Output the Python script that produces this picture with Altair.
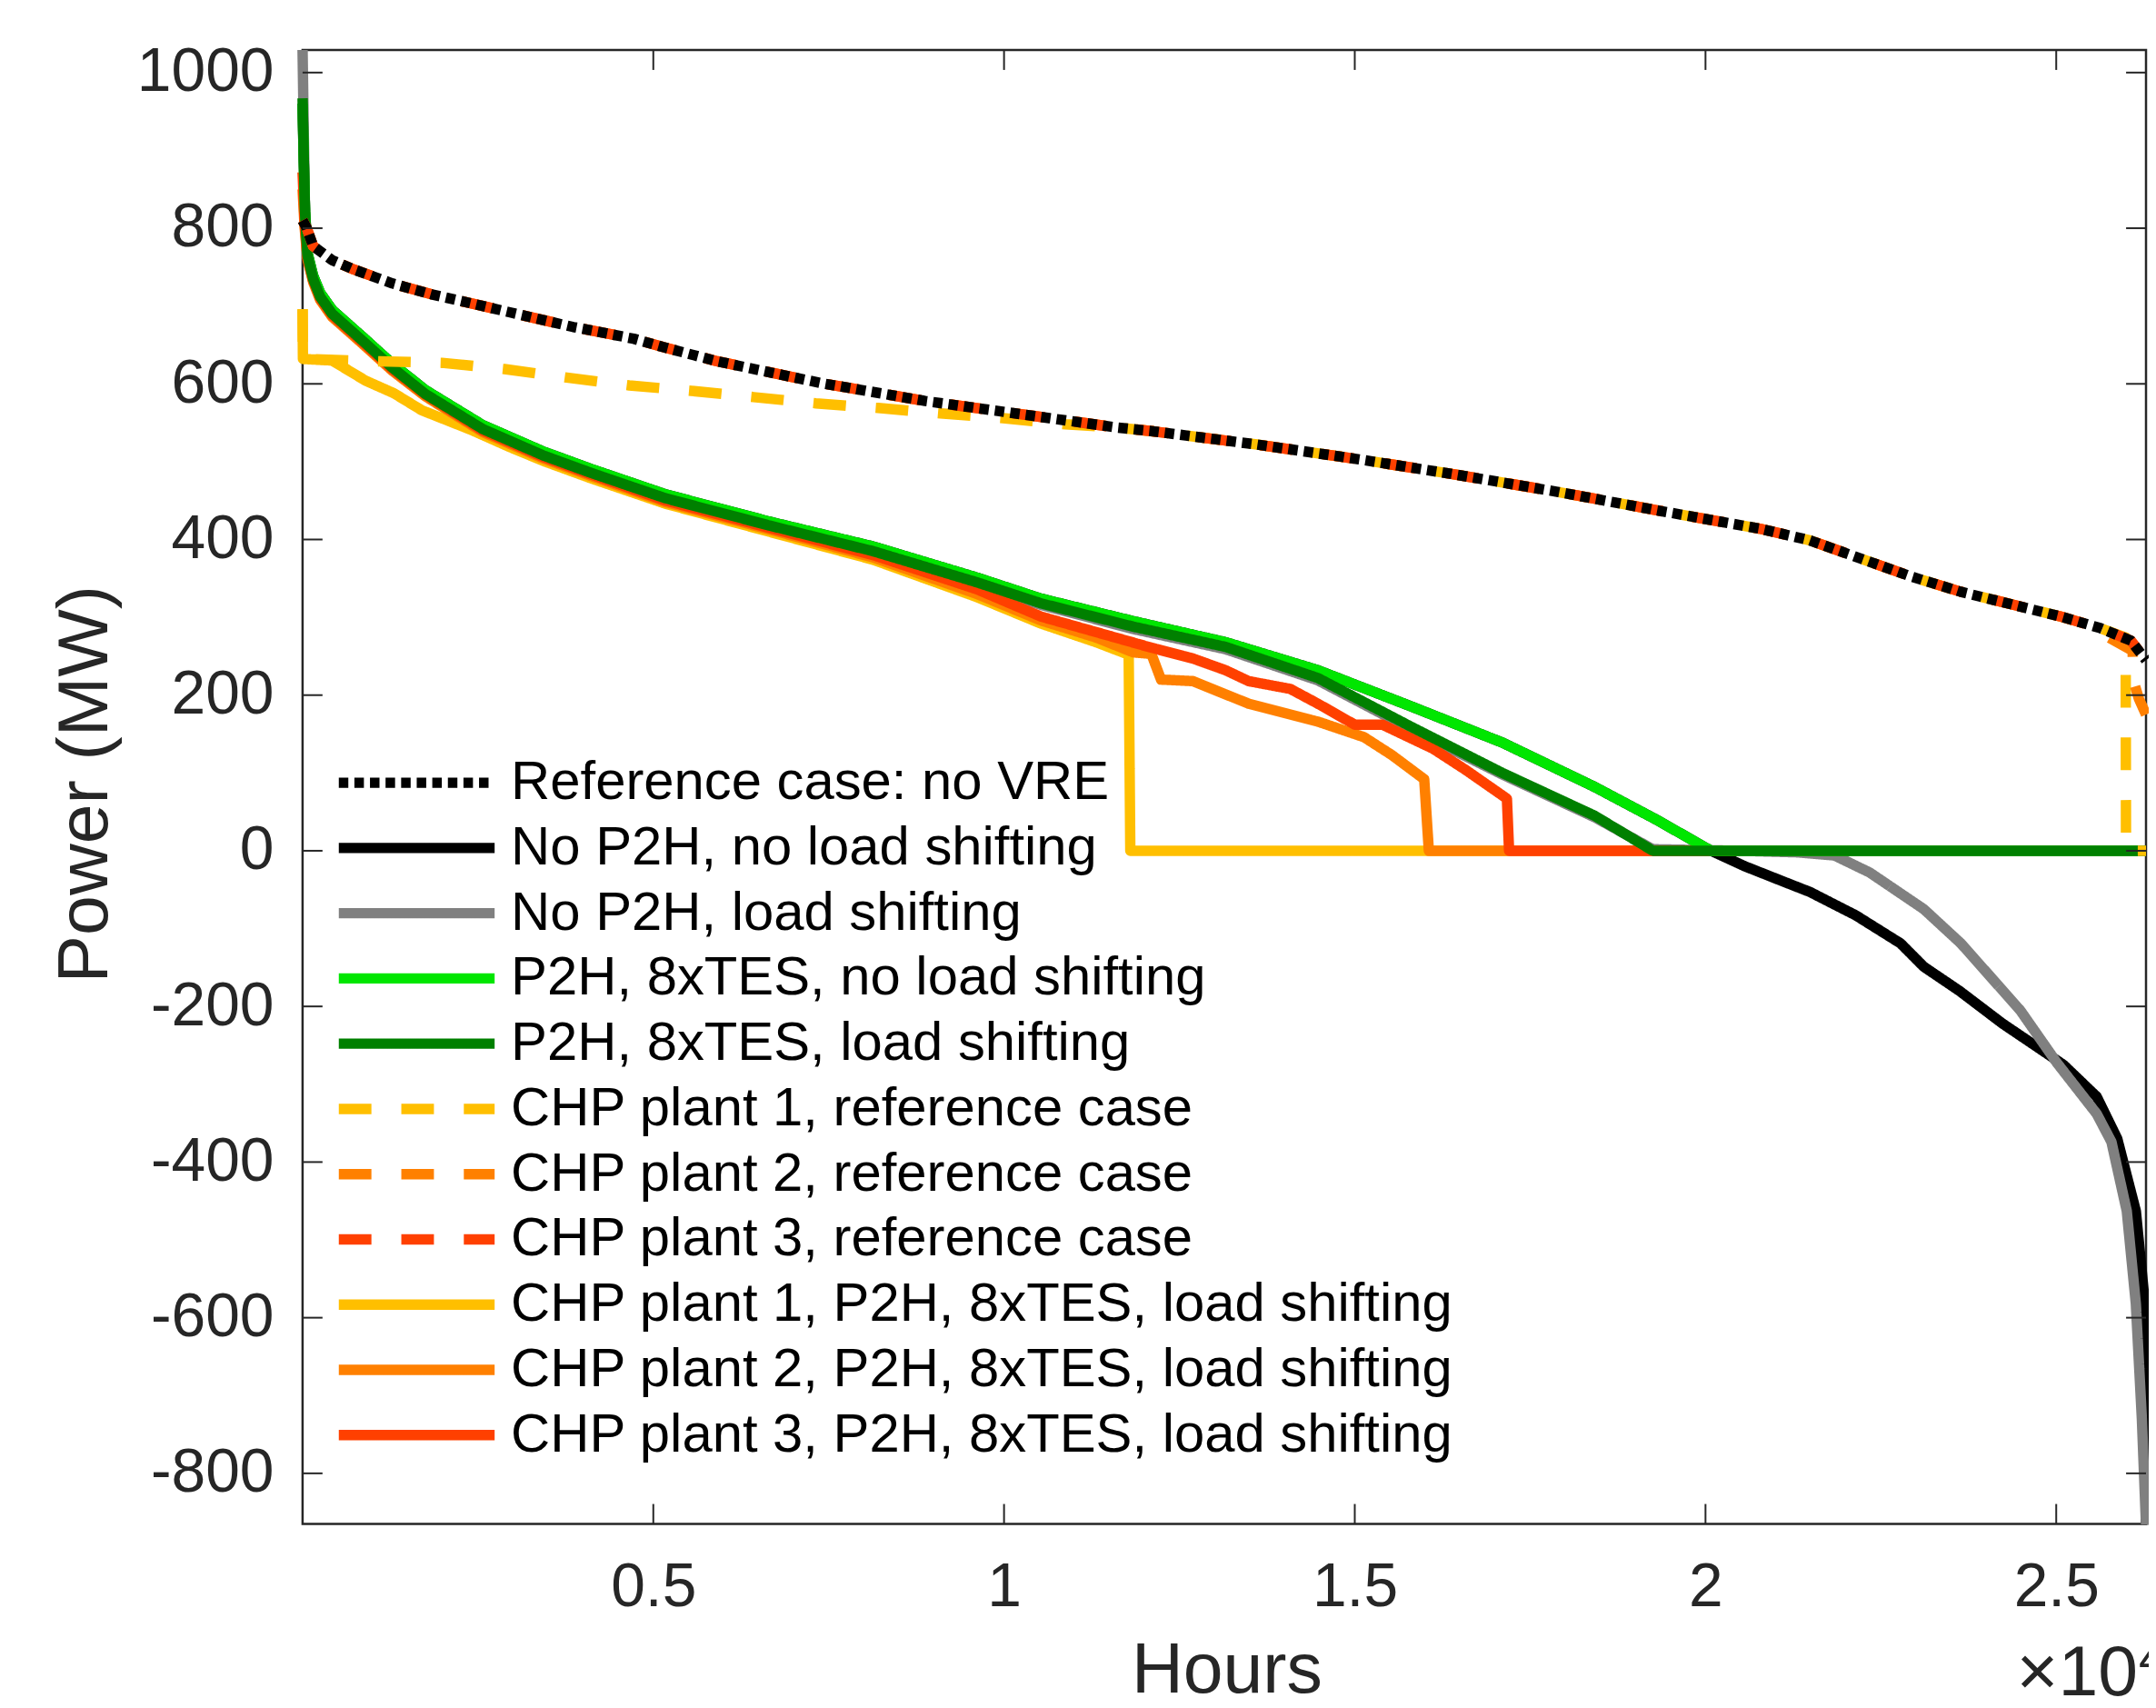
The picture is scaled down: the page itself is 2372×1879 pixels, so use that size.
import altair as alt
import pandas as pd

FONT = "Liberation Sans"
AX = "#262626"
W, H = 2035, 1627
X_MAX = 26280
Y_MIN, Y_MAX = -865, 1029
LW = 11.5

x_ticks = [5000, 10000, 15000, 20000, 25000]
y_ticks = [-800, -600, -400, -200, 0, 200, 400, 600, 800, 1000]

names = [
    "Reference case: no VRE",
    "No P2H, no load shifting",
    "No P2H, load shifting",
    "P2H, 8xTES, no load shifting",
    "P2H, 8xTES, load shifting",
    "CHP plant 1, reference case",
    "CHP plant 2, reference case",
    "CHP plant 3, reference case",
    "CHP plant 1, P2H, 8xTES, load shifting",
    "CHP plant 2, P2H, 8xTES, load shifting",
    "CHP plant 3, P2H, 8xTES, load shifting",
]
colors = ["#000000", "#000000", "#808080", "#00E600", "#008000",
          "#FFBF00", "#FF8000", "#FF4000", "#FFBF00", "#FF8000", "#FF4000"]
DOT, DASH, SOLID = [10.5, 6.7], [36, 33], [1, 0]
dashes = [DOT, SOLID, SOLID, SOLID, SOLID, DASH, DASH, DASH, SOLID, SOLID, SOLID]

# Reference case: no VRE
ref_x = [0, 60, 150, 420, 730, 1280, 1840, 2570, 2950, 3860, 4720, 5150, 5910, 7390, 8875,
         10645, 11600, 12126, 13608, 15060, 16400, 17905, 19337, 20769, 21484, 22200, 22910,
         23633, 24347, 25064, 25632, 26065, 26280]
ref_y = [810, 800, 777, 759, 747, 729, 715, 700, 692, 673, 658, 647, 629, 601, 578,
         556, 544, 539, 522, 503, 484, 461, 437, 414, 399, 376, 353,
         333, 317, 301, 286, 270, 245]

# No P2H, no load shifting
nols_x = [0, 15, 35, 70, 150, 250, 422, 860, 1277, 1750, 2567, 2949, 3431, 4100, 5173, 6652,
          8133, 9613, 10526, 11842, 13158, 14474, 15790, 17105, 18421, 19300, 20080, 20563,
          21123, 21491, 22143, 22781, 23112, 23620, 24234, 24694, 25103, 25577, 25870, 26135,
          26264, 26280]
nols_y = [960, 895, 822, 768, 739, 717, 695, 660, 626, 592, 547, 532, 513, 491, 458, 423,
          391, 351, 324, 295, 268, 232, 186, 139, 82, 40, 0, -20,
          -40, -53, -83, -119, -149, -180, -222, -250, -275, -316, -370, -463,
          -582, -866]

# No P2H, load shifting
ls_x = [0, 10, 35, 70, 150, 250, 422, 860, 1277, 1750, 2567, 2949, 3431, 4100, 5173, 6652,
        8133, 9613, 10526, 11842, 13158, 14474, 15790, 17105, 18421, 19250, 20500, 21300,
        21838, 22342, 23112, 23641, 24487, 25014, 25577, 25787, 26006, 26135, 26221, 26280]
ls_y = [1029, 967, 818, 763, 733, 710, 688, 653, 619, 585, 540, 525, 506, 484, 451, 416,
        383, 343, 316, 285, 259, 219, 157, 98, 43, 2, 0, -2,
        -6, -28, -75, -119, -205, -273, -338, -374, -463, -582, -730, -866]

# P2H, 8xTES, no load shifting
p2h_x = [0, 15, 35, 70, 150, 250, 422, 860, 1277, 1750, 2567, 2949, 3431, 4100, 5173, 6652,
         8133, 9613, 10526, 11842, 13158, 14474, 15790, 17105, 18421, 19300, 20080, 26280]
p2h_y = [960, 895, 822, 768, 739, 717, 695, 660, 626, 592, 547, 532, 513, 491, 458, 423,
         391, 351, 324, 295, 268, 232, 186, 139, 82, 40, 0, 0]

# P2H, 8xTES, load shifting
p2hls_x = [0, 15, 35, 70, 150, 250, 422, 860, 1277, 1750, 2567, 2949, 3431, 4100, 5173, 6652,
           8133, 9613, 10526, 11842, 13158, 14474, 15790, 17105, 18421, 19250, 26280]
p2hls_y = [967, 900, 820, 765, 735, 712, 690, 655, 621, 587, 542, 527, 508, 486, 453, 418,
           385, 345, 318, 288, 262, 222, 160, 100, 45, 0, 0]

# CHP plant 1, reference case (own path, then along reference, then drop)
chp1r_head_x = [0, 5, 1097, 1987, 2877, 3767, 4656, 5542, 6430, 7317, 8204, 9094, 9985, 10873]
chp1r_head_y = [696, 632, 629, 627, 619, 608, 598, 591, 583, 575, 569, 562, 556, 548]
chp1r_tail_x = [25990, 25995, 26280]
chp1r_tail_y = [274, 0, 0]

# CHP plant 2, reference case tail (along reference before)
chp2r_tail_x = [25748, 26090, 26095, 26180, 26280]
chp2r_tail_y = [274, 257, 220, 195, 175]

# CHP plants with P2H, 8xTES, load shifting
c1_x = [0, 5, 420, 900, 1300, 1700, 2400, 2949, 3431, 4100, 5173, 6652, 8133, 9613, 10526,
        11313, 11777, 11800, 26280]
c1_y = [696, 632, 630, 604, 588, 566, 541, 519, 501, 479, 446, 410, 374, 326, 292,
        268, 252, 0, 0]
c2_x = [0, 30, 70, 150, 250, 422, 860, 1277, 1750, 2567, 2949, 3431, 4100, 5173, 6652, 8133,
        9613, 10526, 11313, 11842, 12100, 12238, 12694, 13487, 14474, 15132, 15529, 15990,
        16056, 26280]
c2_y = [850, 800, 760, 731, 708, 686, 651, 617, 584, 538, 523, 504, 482, 448, 413, 377,
        330, 296, 274, 255, 253, 220, 218, 189, 166, 146, 123, 92,
        0, 0]
c3_x = [0, 30, 70, 150, 250, 422, 860, 1277, 1750, 2567, 2949, 3431, 4100, 5173, 6652, 8133,
        9613, 10526, 12100, 12694, 13158, 13487, 14080, 14474, 15001, 15396, 16119, 16580,
        17169, 17200, 26280]
c3_y = [872, 805, 762, 733, 710, 688, 653, 619, 586, 540, 525, 506, 484, 450, 415, 380,
        336, 301, 261, 247, 232, 218, 208, 189, 162, 162, 131, 104,
        67, 0, 0]

i_merge = ref_x.index(11600)
i_end = ref_x.index(25632) + 1
chp1r_x = chp1r_head_x + ref_x[i_merge:i_end] + chp1r_tail_x
chp1r_y = chp1r_head_y + ref_y[i_merge:i_end] + chp1r_tail_y
chp2r_x = ref_x[:i_end] + chp2r_tail_x
chp2r_y = ref_y[:i_end] + chp2r_tail_y

series = {
    names[0]: (ref_x, ref_y),
    names[1]: (nols_x, nols_y),
    names[2]: (ls_x, ls_y),
    names[3]: (p2h_x, p2h_y),
    names[4]: (p2hls_x, p2hls_y),
    names[5]: (chp1r_x, chp1r_y),
    names[6]: (chp2r_x, chp2r_y),
    names[7]: (ref_x, ref_y),
    names[8]: (c1_x, c1_y),
    names[9]: (c2_x, c2_y),
    names[10]: (c3_x, c3_y),
}

rows = []
for name, (xs, ys) in series.items():
    for i, (xv, yv) in enumerate(zip(xs, ys)):
        rows.append({"series": name, "x": xv, "y": yv, "ord": i})
df = pd.DataFrame(rows)

xscale = alt.Scale(domain=[0, X_MAX], nice=False, zero=False)
yscale = alt.Scale(domain=[Y_MIN, Y_MAX], nice=False, zero=False)

xaxis = alt.Axis(values=x_ticks, labelExpr="datum.value / 10000", ticks=False, domain=False,
                 grid=False, labelFontSize=68, labelFont=FONT, labelColor=AX, labelPadding=36,
                 labelOverlap=False, labelFlush=False,
                 title="Hours", titleFontSize=79, titleFont=FONT, titleColor=AX,
                 titleFontWeight="normal", titleY=186, titleX=1020, titleBaseline="alphabetic",
                 titleAlign="center")
yaxis = alt.Axis(values=y_ticks, labelExpr="'' + datum.value", ticks=False, domain=False,
                 grid=False, labelFontSize=68, labelFont=FONT, labelColor=AX, labelPadding=32,
                 labelOverlap=False, labelFlush=False,
                 title="Power (MW)", titleFontSize=79, titleFont=FONT, titleColor=AX,
                 titleFontWeight="normal", titleAngle=270, titleX=-216, titleY=810,
                 titleBaseline="alphabetic", titleAlign="center")

leg = alt.Legend(title=None, orient="none", legendX=34, legendY=774, direction="vertical",
                 symbolType="stroke", symbolSize=172 * 172, symbolStrokeWidth=LW,
                 labelFontSize=60, labelFont=FONT, labelColor="#000000", labelLimit=1500,
                 clipHeight=69.7, rowPadding=2, labelOffset=12, padding=0)

color = alt.Color("series:N", scale=alt.Scale(domain=names, range=colors), legend=leg)
sdash = alt.StrokeDash("series:N", scale=alt.Scale(domain=names, range=dashes), legend=leg)

draw_order = [1, 2, 8, 9, 10, 3, 4, 5, 6, 7, 0]
line_layers = []
for k in draw_order:
    nm = names[k]
    line_layers.append(
        alt.Chart(df).transform_filter(alt.datum.series == nm)
        .mark_line(strokeWidth=LW, strokeJoin="round", strokeCap="butt")
        .encode(x=alt.X("x:Q", scale=xscale, axis=xaxis),
                y=alt.Y("y:Q", scale=yscale, axis=yaxis),
                color=color, strokeDash=sdash, order=alt.Order("ord:Q"))
    )

xt = pd.DataFrame({"x": x_ticks})
yt = pd.DataFrame({"y": y_ticks})
TL = 22
tick_style = dict(color=AX, strokeWidth=2)
ticks = [
    alt.Chart(xt).mark_rule(**tick_style).encode(
        x=alt.X("x:Q", scale=xscale, axis=xaxis), y=alt.value(H), y2=alt.value(H - TL)),
    alt.Chart(xt).mark_rule(**tick_style).encode(
        x=alt.X("x:Q", scale=xscale, axis=xaxis), y=alt.value(0), y2=alt.value(TL)),
    alt.Chart(yt).mark_rule(**tick_style).encode(
        y=alt.Y("y:Q", scale=yscale, axis=yaxis), x=alt.value(0), x2=alt.value(TL)),
    alt.Chart(yt).mark_rule(**tick_style).encode(
        y=alt.Y("y:Q", scale=yscale, axis=yaxis), x=alt.value(W - TL), x2=alt.value(W)),
]

one = pd.DataFrame({"a": [0]})
exp_base = alt.Chart(one).mark_text(text="\u00d710", font=FONT, fontSize=79, color=AX,
                                    align="right", baseline="alphabetic").encode(
    x=alt.value(2026), y=alt.value(1816))
exp_sup = alt.Chart(one).mark_text(text="4", font=FONT, fontSize=56, color=AX,
                                   align="left", baseline="alphabetic").encode(
    x=alt.value(2027), y=alt.value(1794))

chart = alt.layer(*line_layers, *ticks, exp_base, exp_sup).properties(
    width=W, height=H,
    padding={"left": 326, "top": 44, "right": 3, "bottom": 192},
    autosize=alt.AutoSizeParams(type="none"),
).configure(
    background="white",
    view=alt.ViewConfig(stroke=AX, strokeWidth=2.5),
)

chart.save("out.html", embed_options={"renderer": "svg", "actions": False})
